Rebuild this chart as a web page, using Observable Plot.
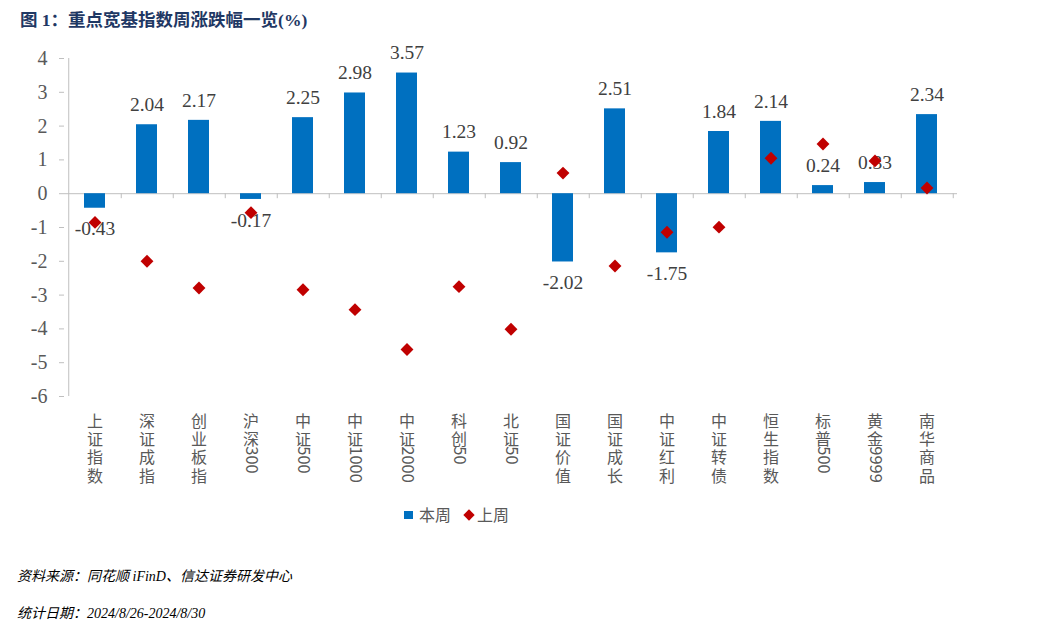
<!DOCTYPE html>
<html>
<head>
<meta charset="utf-8">
<script src="https://cdn.jsdelivr.net/npm/d3@7"></script>
<script src="https://cdn.jsdelivr.net/npm/@observablehq/plot@0.6"></script>
<style>
  html, body { margin: 0; padding: 0; background: #fff; }
  body { width: 1038px; height: 628px; position: relative; overflow: hidden; }
  #title { position: absolute; left: 20px; top: 6px; font-family: "Liberation Serif", "Noto Sans CJK SC", serif; font-weight: 700; font-size: 17.5px; color: #1F3864; white-space: nowrap; }
  #chart { position: absolute; left: 0; top: 40px; }
  #legend { position: absolute; left: 0; top: 503px; width: 1038px; height: 22px; font-family: "Noto Sans CJK SC", sans-serif; font-size: 16px; color: #595959; }
  #legend .sw { position: absolute; }
  #legend .lb { position: absolute; top: 0; line-height: 22px; }
  .note { position: absolute; left: 17px; font-family: "Liberation Serif", "Noto Sans CJK SC", serif; font-style: italic; font-size: 14px; color: #000; white-space: nowrap; }
</style>
</head>
<body>
<div id="title">图 1：重点宽基指数周涨跌幅一览(%)</div>
<div id="chart"></div>
<div id="legend"></div>
<div class="note" style="top:565px">资料来源：同花顺 iFinD、信达证券研发中心</div>
<div class="note" style="top:602px">统计日期：2024/8/26-2024/8/30</div>
<script>
const categories = ["上证指数","深证成指","创业板指","沪深300","中证500","中证1000","中证2000","科创50","北证50","国证价值","国证成长","中证红利","中证转债","恒生指数","标普500","黄金9999","南华商品"];
const thisWeek = [-0.43, 2.04, 2.17, -0.17, 2.25, 2.98, 3.57, 1.23, 0.92, -2.02, 2.51, -1.75, 1.84, 2.14, 0.24, 0.33, 2.34];
const lastWeek = [-0.85, -2.00, -2.79, -0.56, -2.84, -3.43, -4.61, -2.75, -4.01, 0.61, -2.14, -1.14, -0.99, 1.05, 1.47, 0.97, 0.17];
const yTicks = [4, 3, 2, 1, 0, -1, -2, -3, -4, -5, -6];
const seriesNames = ["本周", "上周"];

const rows = categories.map((c, i) => ({name: c, now: thisWeek[i], prev: lastWeek[i]}));

// split labels into stacked CJK characters and a rotated digit run
const labelParts = categories.map(c => ({
  name: c,
  cjk: Array.from(c.replace(/[0-9]+/g, "")).join("\n"),
  digits: (c.match(/[0-9]+/) || [""])[0]
}));

const W = 1038, H = 455, ML = 64, MR = 81, MT = 18, MB = 99;
const step = (W - ML - MR) / categories.length;
const BLUE = "#0070C0", RED = "#C00000", GRID = "#BFBFBF";
const CJK_SIZE = 16, CJK_LH = 1.15, LABEL_DY = 17;

const chart = Plot.plot({
  width: W, height: H,
  marginTop: MT, marginBottom: MB, marginLeft: ML, marginRight: MR,
  style: {background: "transparent", fontFamily: "'Liberation Serif', serif", fontSize: "20px", color: "#595959"},
  x: {domain: categories, paddingInner: 0.6, paddingOuter: 0.3, axis: null},
  y: {domain: [-6, 4], axis: null},
  marks: [
    Plot.axisY({ticks: yTicks, tickSize: 5, tickPadding: 12, tickFormat: d => String(d), stroke: GRID, fill: "#595959", fontSize: 20, fontFamily: "'Liberation Serif', serif"}),
    Plot.ruleX([categories[0]], {x: d => d, y1: -6, y2: 4, dx: -step / 2, stroke: GRID}),
    Plot.ruleY([0], {stroke: GRID}),
    Plot.ruleX(categories, {x: d => d, y1: 0, y2: 0, dx: step / 2, insetBottom: -5, stroke: GRID}),
    Plot.barY(rows, {x: "name", y: "now", fill: BLUE}),
    Plot.text(rows.filter(d => d.now >= 0), {x: "name", y: "now", text: d => d.now.toFixed(2), dy: -20, fill: "#404040", fontSize: 19.5, fontFamily: "'Liberation Serif', serif"}),
    Plot.text(rows.filter(d => d.now < 0), {x: "name", y: "now", text: d => d.now.toFixed(2), dy: 21, fill: "#404040", fontSize: 19.5, fontFamily: "'Liberation Serif', serif"}),
    Plot.dot(rows, {x: "name", y: "prev", symbol: "diamond2", r: 5.8, fill: RED, stroke: "none"}),
    // vertical category labels: stacked CJK characters
    Plot.text(labelParts, {x: "name", text: "cjk", frameAnchor: "bottom", lineAnchor: "top", dy: LABEL_DY, lineHeight: CJK_LH, fill: "#595959", fontSize: CJK_SIZE, fontFamily: "'Noto Sans CJK SC', sans-serif"}),
    // digit runs rotated 90° (as in vertical writing mode)
    Plot.text(labelParts.filter(d => d.digits), {x: "name", text: "digits", frameAnchor: "bottom", rotate: 90, textAnchor: "start", lineAnchor: "middle", dy: LABEL_DY + 2 * CJK_SIZE * CJK_LH - 4, fill: "#595959", fontSize: 16.5, fontFamily: "'Noto Sans CJK SC', sans-serif"})
  ]
});

document.getElementById("chart").appendChild(chart);

// legend
const legend = document.getElementById("legend");
const items = [
  {name: seriesNames[0], color: BLUE, shape: "square", sx: 404, tx: 419},
  {name: seriesNames[1], color: RED, shape: "diamond", sx: 463, tx: 477}
];
for (const it of items) {
  const sw = document.createElement("div");
  sw.className = "sw";
  if (it.shape === "square") {
    Object.assign(sw.style, {left: it.sx + "px", top: "7.5px", width: "8.5px", height: "8.5px", background: it.color});
  } else {
    Object.assign(sw.style, {left: (it.sx + 1.5) + "px", top: "7.5px", width: "8px", height: "8px", background: it.color, transform: "rotate(45deg)"});
  }
  legend.appendChild(sw);
  const lb = document.createElement("div");
  lb.className = "lb";
  lb.style.left = it.tx + "px";
  lb.textContent = it.name;
  legend.appendChild(lb);
}
</script>
</body>
</html>
